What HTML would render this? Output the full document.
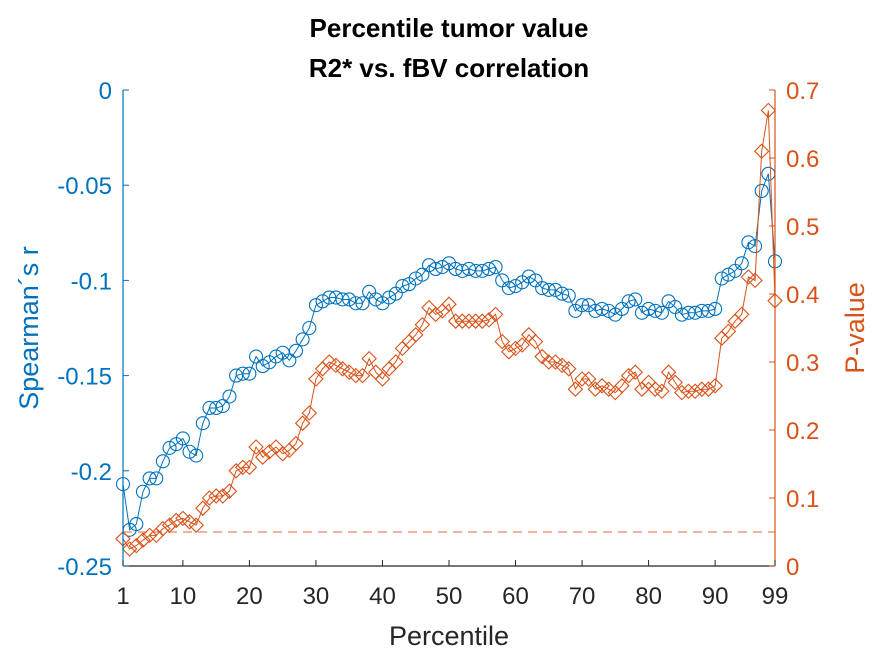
<!DOCTYPE html>
<html><head><meta charset="utf-8"><style>
body{margin:0;background:#fff;}
svg text{font-family:"Liberation Sans",sans-serif;}
</style></head><body>
<svg width="875" height="656" xmlns="http://www.w3.org/2000/svg">
<g id="root"></g>
</svg>
<script>
const percentiles=[];for(let i=1;i<=99;i++)percentiles.push(i);
const rValues=[-0.207,-0.231,-0.228,-0.211,-0.204,-0.204,-0.195,-0.188,-0.186,-0.183,-0.190,-0.192,-0.175,-0.167,-0.167,-0.166,-0.161,-0.150,-0.149,-0.149,-0.140,-0.145,-0.143,-0.140,-0.138,-0.142,-0.137,-0.131,-0.125,-0.113,-0.111,-0.109,-0.109,-0.110,-0.110,-0.112,-0.112,-0.106,-0.110,-0.112,-0.109,-0.107,-0.103,-0.102,-0.099,-0.097,-0.092,-0.094,-0.093,-0.091,-0.094,-0.095,-0.094,-0.095,-0.095,-0.094,-0.093,-0.100,-0.104,-0.103,-0.101,-0.098,-0.100,-0.104,-0.105,-0.105,-0.107,-0.108,-0.116,-0.113,-0.113,-0.116,-0.115,-0.116,-0.118,-0.115,-0.111,-0.110,-0.117,-0.115,-0.116,-0.117,-0.111,-0.114,-0.118,-0.117,-0.117,-0.116,-0.116,-0.115,-0.099,-0.097,-0.095,-0.091,-0.080,-0.082,-0.053,-0.044,-0.090];
const pValues=[0.040,0.025,0.030,0.038,0.045,0.045,0.055,0.060,0.067,0.070,0.065,0.060,0.085,0.100,0.103,0.103,0.110,0.140,0.145,0.145,0.175,0.160,0.168,0.175,0.165,0.170,0.180,0.210,0.225,0.275,0.290,0.300,0.295,0.290,0.285,0.280,0.280,0.305,0.285,0.275,0.290,0.300,0.320,0.330,0.340,0.355,0.380,0.370,0.375,0.385,0.360,0.360,0.360,0.360,0.360,0.362,0.370,0.330,0.315,0.320,0.325,0.340,0.330,0.308,0.300,0.300,0.295,0.290,0.260,0.275,0.275,0.260,0.265,0.260,0.255,0.265,0.280,0.285,0.260,0.270,0.260,0.257,0.285,0.270,0.255,0.257,0.257,0.260,0.260,0.265,0.335,0.345,0.360,0.370,0.425,0.420,0.610,0.670,0.390];
const xTicks=[1,10,20,30,40,50,60,70,80,90,99];
const leftTicks=[0,-0.05,-0.1,-0.15,-0.2,-0.25];
const leftTickLabels=["0","-0.05","-0.1","-0.15","-0.2","-0.25"];
const rightTicks=[0,0.1,0.2,0.3,0.4,0.5,0.6,0.7];
const threshold=0.05;

const L=123,R=775,T=90,B=566;
const BLUE="#0072BD",ORG="#D95319";
const xs=v=>L+(v-1)/98*(R-L);
const yl=v=>T+(0-v)/0.25*(B-T);
const yr=v=>B-v/0.7*(B-T);
const NS="http://www.w3.org/2000/svg";
const root=document.getElementById('root');
function mk(tag,attrs,parent){const e=document.createElementNS(NS,tag);for(const k in attrs)e.setAttribute(k,attrs[k]);(parent||root).appendChild(e);return e;}
function txt(s,attrs){const e=mk('text',attrs);e.textContent=s;return e;}

let th=mk('line',{x1:L,x2:R,y1:yr(threshold),y2:yr(threshold),stroke:"#EE9A7A","stroke-width":1.5,"stroke-dasharray":"9,6"});



let gr=mk('g',{});
mk('polyline',{points:percentiles.map((p,i)=>xs(p)+","+yl(rValues[i])).join(" "),fill:"none",stroke:BLUE,"stroke-width":1},gr);
percentiles.forEach((p,i)=>{const c=mk('circle',{cx:xs(p),cy:yl(rValues[i]),r:6.5,fill:"none",stroke:BLUE,"stroke-width":1.1},gr);

});
let gp=mk('g',{});
mk('polyline',{points:percentiles.map((p,i)=>xs(p)+","+yr(pValues[i])).join(" "),fill:"none",stroke:ORG,"stroke-width":1},gp);
percentiles.forEach((p,i)=>{const x=xs(p),y=yr(pValues[i]),d=7;const m=mk('polygon',{points:`${x},${y-d} ${x+d},${y} ${x},${y+d} ${x-d},${y}`,fill:"none",stroke:ORG,"stroke-width":1.1},gp);

});

mk('line',{x1:L,x2:R,y1:B,y2:B,stroke:"#262626","stroke-width":1.2});
mk('line',{x1:L,x2:L,y1:T,y2:B,stroke:BLUE,"stroke-width":1.2});
mk('line',{x1:R,x2:R,y1:T,y2:B,stroke:ORG,"stroke-width":1.2});
xTicks.forEach(v=>{mk('line',{x1:xs(v),x2:xs(v),y1:B,y2:B-6,stroke:"#262626"});
const t=txt(String(v),{x:xs(v),y:B+38,"text-anchor":"middle","font-size":24,fill:"#262626"});

});
leftTicks.forEach((v,i)=>{mk('line',{x1:L,x2:L+6,y1:yl(v),y2:yl(v),stroke:BLUE});
const t=txt(leftTickLabels[i],{x:L-11,y:yl(v)+9,"text-anchor":"end","font-size":24,fill:BLUE});

});
rightTicks.forEach(v=>{mk('line',{x1:R,x2:R-6,y1:yr(v),y2:yr(v),stroke:ORG});
const t=txt(String(v),{x:R+11,y:yr(v)+9,"text-anchor":"start","font-size":24,fill:ORG});

});

let t1=txt("Percentile tumor value",{x:449,y:37,"text-anchor":"middle","font-size":26,"font-weight":"bold",fill:"#000"});

let t2=txt("R2* vs. fBV correlation",{x:449,y:77,"text-anchor":"middle","font-size":26,"font-weight":"bold",fill:"#000"});

let xl=txt("Percentile",{x:449,y:645,"text-anchor":"middle","font-size":27,fill:"#262626"});

let ylb=txt("Spearman´s r",{x:0,y:0,"text-anchor":"middle","font-size":27,fill:BLUE,transform:`translate(38,${(T+B)/2}) rotate(-90)`});

let yrb=txt("P-value",{x:0,y:0,"text-anchor":"middle","font-size":27,fill:ORG,transform:`translate(864,${(T+B)/2}) rotate(-90)`});

</script>
</body></html>
